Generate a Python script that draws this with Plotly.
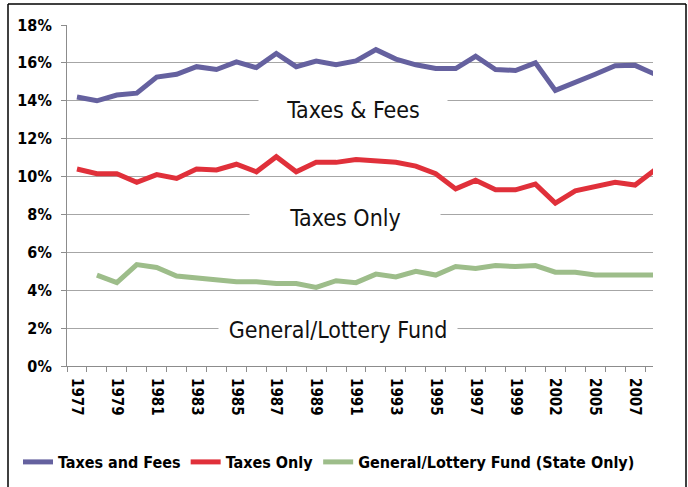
import plotly.graph_objects as go

years = ["1977", "1978", "1979", "1980", "1981", "1982", "1983", "1984", "1985", "1986",
         "1987", "1988", "1989", "1990", "1991", "1992", "1993", "1994", "1995", "1996",
         "1997", "1998", "1999", "2000", "2002", "2004", "2005", "2006", "2007", "2008"]

taxes_and_fees = [14.2, 14.0, 14.3, 14.4, 15.25, 15.4, 15.8, 15.65, 16.05, 15.75,
                  16.5, 15.8, 16.1, 15.9, 16.1, 16.7, 16.2, 15.9, 15.7, 15.7,
                  16.35, 15.65, 15.6, 16.0, 14.55, 14.95, 15.4, 15.85, 15.87, 15.4]

taxes_only = [10.4, 10.15, 10.15, 9.7, 10.1, 9.9, 10.4, 10.35, 10.65, 10.25,
              11.05, 10.25, 10.75, 10.75, 10.9, 10.8, 10.75, 10.55, 10.15, 9.35,
              9.8, 9.3, 9.3, 9.6, 8.6, 9.25, 9.5, 9.7, 9.55, 10.35]

general_lottery = [None, 4.8, 4.4, 5.35, 5.2, 4.75, 4.65, 4.5, 4.45, 4.45,
                   4.35, 4.35, 4.15, 4.5, 4.4, 4.85, 4.7, 5.0, 4.8, 5.25,
                   5.15, 5.3, 5.25, 5.3, 4.95, 4.95, 4.8, 4.8, 4.8, 4.8]

y_ticks = [0, 2, 4, 6, 8, 10, 12, 14, 16, 18]

series_names = ["Taxes and Fees", "Taxes Only", "General/Lottery Fund (State Only)"]
series_colors = ["#65619F", "#E0303A", "#9DBD8A"]

NARROW = "Liberation Sans Narrow, Arial Narrow, DejaVu Sans Condensed, sans-serif"

x_pos = list(range(len(years)))

fig = go.Figure()
for name, vals, col in zip(series_names, [taxes_and_fees, taxes_only, general_lottery], series_colors):
    fig.add_trace(go.Scatter(x=x_pos, y=vals, mode="lines", name=name,
                             line=dict(color=col, width=5), hoverinfo="skip"))

W, H = 688, 487
L, R, T, B = 67, 35, 25, 121
pw, ph = W - L - R, H - T - B

def px2paper_x(px):
    return (px - L) / pw

def py2paper_y(py):
    return (H - B - py) / ph

fig.update_layout(
    width=W, height=H,
    margin=dict(l=L, r=R, t=T, b=B, autoexpand=False),
    paper_bgcolor="white", plot_bgcolor="white",
    font=dict(family=NARROW, color="#000000"),
    showlegend=True,
    legend=dict(orientation="h", x=px2paper_x(18), xanchor="left",
                y=py2paper_y(462), yanchor="middle",
                font=dict(family=NARROW, size=16, color="#000000", weight="bold"),
                itemwidth=30, tracegroupgap=0, bgcolor="rgba(0,0,0,0)"),
    xaxis=dict(range=[-0.5, 28.9], tickmode="array",
               tickvals=x_pos[::2], ticktext=years[::2], tickangle=90,
               ticks="", showgrid=False, zeroline=False,
               showline=True, linecolor="#8C8C8C", linewidth=1,
               ticklabelstandoff=8,
               tickfont=dict(family=NARROW, size=15, color="#000000", weight="bold"),
               minor=dict(tickvals=[i - 0.5 for i in range(len(years) + 1)],
                          ticks="outside", ticklen=5, tickcolor="#8C8C8C", showgrid=False)),
    yaxis=dict(range=[0, 18], tickmode="array", tickvals=y_ticks,
               ticktext=[f"{v}%" for v in y_ticks],
               ticks="outside", ticklen=5, tickcolor="#8C8C8C",
               showgrid=True, gridcolor="#A6A6A6", gridwidth=1,
               zeroline=False, showline=True, linecolor="#8C8C8C", linewidth=1,
               ticklabelstandoff=6,
               tickfont=dict(family=NARROW, size=16, color="#000000", weight="bold")),
)

labels = [("Taxes & Fees", 13.84, 13.52, 186), ("Taxes Only", 13.45, 7.81, 188),
          ("General/Lottery Fund", 13.1, 1.89, 236)]
for txt, xx, yy, wd in labels:
    fig.add_annotation(x=xx, y=yy, xref="x", yref="y", text=txt, showarrow=False,
                       font=dict(family=NARROW, size=23, color="#111111"),
                       bgcolor="white", width=wd, height=30, align="center")

# outer border
bx0, bx1 = px2paper_x(8), px2paper_x(686)
by1, by0 = py2paper_y(4), py2paper_y(520)
fig.add_shape(type="line", xref="paper", yref="paper", x0=bx0, x1=bx1, y0=by1, y1=by1,
              line=dict(color="black", width=1.5))
fig.add_shape(type="line", xref="paper", yref="paper", x0=bx0, x1=bx0, y0=by0, y1=by1,
              line=dict(color="black", width=1.5))
fig.add_shape(type="line", xref="paper", yref="paper", x0=bx1, x1=bx1, y0=by0, y1=by1,
              line=dict(color="black", width=1.5))

fig.write_html("out.html", config={"displayModeBar": False},
               post_script="document.body.style.margin='0';document.body.style.overflow='hidden';")
